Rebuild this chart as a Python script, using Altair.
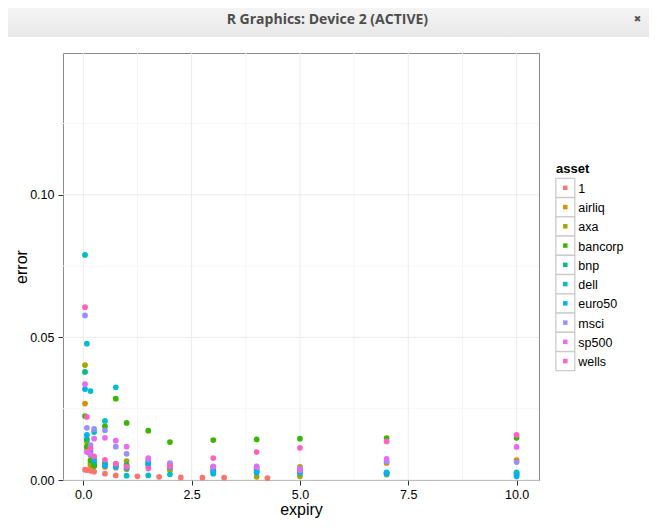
import altair as alt
import pandas as pd

# ---------------- data ----------------
assets = ["1", "airliq", "axa", "bancorp", "bnp", "dell", "euro50", "msci", "sp500", "wells"]
colors = ["#F8766D", "#D89000", "#A3A500", "#39B600", "#00BF7D",
          "#00BFC4", "#00B0F6", "#9590FF", "#E76BF3", "#FF62BC"]

exp_one = [0.04, 0.083, 0.167, 0.25, 0.5, 0.75, 1.25, 1.75, 2.25, 2.75, 3.25, 4.25]
err_one = [0.0036, 0.0035, 0.0032, 0.0029, 0.0022, 0.0016, 0.0013, 0.0011, 0.0009, 0.0008, 0.0008, 0.0007]

exp_std = [0.04, 0.083, 0.167, 0.25, 0.5, 0.75, 1, 1.5, 2, 3, 4, 5, 7, 10]
err_airliq = [0.0268, 0.0110, 0.0052, 0.0048, 0.0046, 0.0043, 0.0038, 0.0050, 0.0034, 0.0038, 0.0041, 0.0046, 0.0060, 0.0070]
err_axa = [0.0403, 0.0135, 0.0060, 0.0054, 0.0056, 0.0050, 0.0066, 0.0060, 0.0040, 0.0030, 0.0011, 0.0013, 0.0019, 0.0019]
err_bancorp = [0.0224, 0.0118, 0.0069, 0.0050, 0.0188, 0.0285, 0.0200, 0.0173, 0.0133, 0.0140, 0.0142, 0.0145, 0.0147, 0.0148]
err_bnp = [0.0379, 0.0143, 0.0088, 0.0062, 0.0060, 0.0055, 0.0052, 0.0066, 0.0055, 0.0044, 0.0034, 0.0030, 0.0025, 0.0022]
err_dell = [0.0789, 0.0478, 0.0312, 0.0168, 0.0207, 0.0325, 0.0015, 0.0016, 0.0020, 0.0022, 0.0025, 0.0025, 0.0027, 0.0027]
err_euro50 = [0.0319, 0.0158, 0.0100, 0.0072, 0.0050, 0.0046, 0.0042, 0.0056, 0.0045, 0.0030, 0.0028, 0.0026, 0.0022, 0.0013]
err_msci = [0.0577, 0.0183, 0.0122, 0.0179, 0.0174, 0.0117, 0.0092, 0.0072, 0.0059, 0.0046, 0.0048, 0.0040, 0.0065, 0.0063]
err_sp500 = [0.0336, 0.0098, 0.0090, 0.0145, 0.0148, 0.0138, 0.0117, 0.0077, 0.0050, 0.0048, 0.0045, 0.0034, 0.0074, 0.0116]
err_wells = [0.0606, 0.0221, 0.0111, 0.0083, 0.0071, 0.0057, 0.0047, 0.0040, 0.0047, 0.0077, 0.0098, 0.0113, 0.0135, 0.0158]

x_ticks = [0, 2.5, 5, 7.5, 10]
y_ticks = [0, 0.05, 0.10]
x_minor = [1.25, 3.75, 6.25, 8.75]
y_minor = [0.025, 0.075, 0.125]

window_title = "R Graphics: Device 2 (ACTIVE)"
legend_title = "asset"

# ---------------- build table ----------------
series = [("1", exp_one, err_one), ("airliq", exp_std, err_airliq), ("axa", exp_std, err_axa),
          ("bancorp", exp_std, err_bancorp), ("bnp", exp_std, err_bnp), ("dell", exp_std, err_dell),
          ("euro50", exp_std, err_euro50), ("msci", exp_std, err_msci), ("sp500", exp_std, err_sp500),
          ("wells", exp_std, err_wells)]
rows = []
for a, ex, er in series:
    for xv, yv in zip(ex, er):
        rows.append({"asset": a, "expiry": xv, "error": yv})
df = pd.DataFrame(rows)

FONT = "Liberation Sans"
xs = alt.Scale(domain=[-0.468, 10.517], nice=False, zero=False)
ys = alt.Scale(domain=[0, 0.1497], nice=False, zero=False)
cs = alt.Scale(domain=assets, range=colors)

x_axis = alt.Axis(values=x_ticks, format=".1f", title="expiry", grid=False, domain=False,
                  tickSize=5, tickColor="#333333", labelPadding=3, labelFontSize=12.5,
                  labelColor="#000000", labelFont=FONT, titleFont=FONT, titleFontSize=16,
                  titleFontWeight="normal", titleColor="#000000", titleX=238, titleY=34.5,
                  titleBaseline="alphabetic")
y_axis = alt.Axis(values=y_ticks, format=".2f", title="error", grid=False, domain=False,
                  tickSize=5, tickColor="#333333", labelPadding=4, labelFontSize=12.5,
                  labelColor="#000000", labelFont=FONT, titleFont=FONT, titleFontSize=16,
                  titleFontWeight="normal", titleColor="#000000", titleX=-37, titleY=213.5,
                  titleBaseline="alphabetic")

one = pd.DataFrame({"t": [window_title]})

# window chrome
bar = alt.Chart(one).mark_rect(
    color=alt.LinearGradient(gradient="linear",
                             stops=[alt.GradientStop(color="#f4f4f4", offset=0),
                                    alt.GradientStop(color="#e8e8e8", offset=1)],
                             x1=0, x2=0, y1=0, y2=1)
).encode(x=alt.value(-55), x2=alt.value(586), y=alt.value(-45), y2=alt.value(-16))
bar_title = alt.Chart(one).mark_text(font="Open Sans", fontSize=14, fontWeight="bold",
                                     color="#4d4d4d", align="center", baseline="middle").encode(
    x=alt.value(264.4), y=alt.value(-33.5), text="t:N")
close = alt.Chart(pd.DataFrame({"t": ["\u2716"]})).mark_text(font="DejaVu Sans", fontSize=9,
                                                          color="#555555", align="center",
                                                          baseline="middle").encode(
    x=alt.value(574.6), y=alt.value(-34), text="t:N")

# grid
def vrules(vals, col):
    return alt.Chart(pd.DataFrame({"v": vals})).mark_rule(color=col, strokeWidth=1).encode(
        x=alt.X("v:Q", scale=xs, axis=x_axis))

def hrules(vals, col):
    return alt.Chart(pd.DataFrame({"v": vals})).mark_rule(color=col, strokeWidth=1).encode(
        y=alt.Y("v:Q", scale=ys, axis=y_axis))

points = alt.Chart(df).mark_circle(size=33, opacity=1).encode(
    x=alt.X("expiry:Q", scale=xs, axis=x_axis),
    y=alt.Y("error:Q", scale=ys, axis=y_axis),
    color=alt.Color("asset:N", scale=cs, legend=None),
)

panel = alt.layer(vrules(x_minor, "#f5f5f5"), hrules(y_minor, "#f5f5f5"),
                  vrules(x_ticks, "#ebebeb"), hrules(y_ticks, "#ebebeb"), points)

# custom legend
leg_df = pd.DataFrame({"asset": assets})
ly = alt.Y("asset:O", scale=alt.Scale(type="point", domain=assets, range=[134.8, 308.1], padding=0),
           axis=None)
boxes = alt.Chart(leg_df).mark_square(size=361, fill="white", stroke="#cccccc", strokeWidth=1.3,
                                      opacity=1).encode(x=alt.value(502.3), y=ly)
keys = alt.Chart(leg_df).mark_square(size=20, opacity=1).encode(
    x=alt.value(502.3), y=ly, color=alt.Color("asset:N", scale=cs, legend=None))
labels = alt.Chart(leg_df).mark_text(align="left", baseline="middle", font=FONT, fontSize=12.5,
                                     color="#000000", dy=1).encode(
    x=alt.value(515.3), y=ly, text="asset:N")
ltitle = alt.Chart(pd.DataFrame({"t": [legend_title]})).mark_text(
    align="left", baseline="alphabetic", font=FONT, fontSize=13, fontWeight="bold",
    color="#000000").encode(x=alt.value(493), y=alt.value(119.5), text="t:N")

chart = alt.layer(bar, bar_title, close, panel, boxes, keys, labels, ltitle).resolve_scale(
    y="independent"
).properties(
    width=476, height=427,
    autosize=alt.AutoSizeParams(type="none"),
    padding={"left": 55, "top": 45, "right": 110, "bottom": 40},
    background="white",
).configure_view(stroke="#8a8a8a", strokeWidth=1)

chart.save("out.html", embed_options={"renderer": "svg", "actions": False})
